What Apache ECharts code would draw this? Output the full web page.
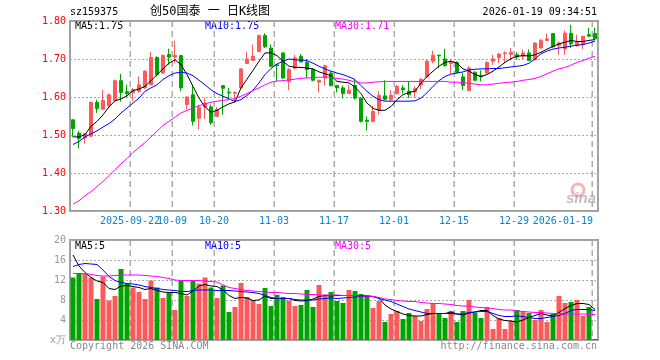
<!DOCTYPE html>
<html><head><meta charset="utf-8">
<script src="https://cdn.jsdelivr.net/npm/echarts@6/dist/echarts.min.js"></script>
<style>html,body{margin:0;padding:0;background:#fff}#c{width:660px;height:360px}</style>
</head><body><div id="c"></div>
<script>
const dates = [
'2025-09-08','2025-09-09','2025-09-10','2025-09-11','2025-09-12','2025-09-15','2025-09-16','2025-09-17','2025-09-18','2025-09-19',
'2025-09-22','2025-09-23','2025-09-24','2025-09-25','2025-09-26','2025-09-29','2025-09-30',
'2025-10-09','2025-10-10','2025-10-13','2025-10-14','2025-10-15','2025-10-16','2025-10-17','2025-10-20','2025-10-21','2025-10-22',
'2025-10-23','2025-10-24','2025-10-27','2025-10-28','2025-10-29','2025-10-30','2025-10-31',
'2025-11-03','2025-11-04','2025-11-05','2025-11-06','2025-11-07','2025-11-10','2025-11-11','2025-11-12','2025-11-13','2025-11-14',
'2025-11-17','2025-11-18','2025-11-19','2025-11-20','2025-11-21','2025-11-24','2025-11-25','2025-11-26','2025-11-27','2025-11-28',
'2025-12-01','2025-12-02','2025-12-03','2025-12-04','2025-12-05','2025-12-08','2025-12-09','2025-12-10','2025-12-11','2025-12-12',
'2025-12-15','2025-12-16','2025-12-17','2025-12-18','2025-12-19','2025-12-22','2025-12-23','2025-12-24','2025-12-25','2025-12-26',
'2025-12-29','2025-12-30','2025-12-31',
'2026-01-05','2026-01-06','2026-01-07','2026-01-08','2026-01-09','2026-01-12','2026-01-13','2026-01-14','2026-01-15','2026-01-16','2026-01-19'];

const opens = [1.540,1.505,1.492,1.497,1.586,1.568,1.577,1.590,1.643,1.614,1.612,1.615,1.624,1.632,1.704,1.663,1.712,1.705,1.709,1.580,1.606,1.544,
1.574,1.574,1.549,1.630,1.613,1.610,1.624,1.688,1.696,1.720,1.762,1.729,1.685,1.716,1.641,1.676,1.707,1.691,1.672,1.639,1.650,1.663,
1.630,1.624,1.609,1.630,1.597,1.539,1.536,1.565,1.603,1.594,1.609,1.624,1.615,1.613,1.632,1.653,1.694,1.710,1.700,1.688,1.691,1.653,
1.617,1.665,1.656,1.663,1.694,1.703,1.714,1.712,1.711,1.707,1.716,1.698,1.729,1.749,1.767,1.735,1.726,1.768,1.735,1.738,1.764,1.767];
const closes = [1.517,1.491,1.503,1.586,1.570,1.591,1.606,1.643,1.612,1.609,1.619,1.632,1.668,1.704,1.659,1.709,1.705,1.710,1.624,1.600,1.536,1.573,
1.584,1.532,1.567,1.623,1.611,1.612,1.674,1.700,1.707,1.762,1.732,1.681,1.683,1.650,1.672,1.703,1.692,1.672,1.644,1.644,1.682,1.630,
1.624,1.609,1.618,1.597,1.536,1.536,1.562,1.604,1.594,1.604,1.628,1.619,1.606,1.622,1.646,1.694,1.710,1.708,1.682,1.691,1.665,1.630,
1.676,1.644,1.653,1.691,1.700,1.713,1.716,1.718,1.705,1.716,1.696,1.742,1.749,1.753,1.732,1.742,1.768,1.740,1.746,1.760,1.760,1.753];
const lows = [1.495,1.465,1.477,1.494,1.558,1.566,1.574,1.589,1.588,1.600,1.589,1.611,1.621,1.630,1.654,1.661,1.685,1.689,1.615,1.568,1.525,1.514,
1.542,1.527,1.547,1.553,1.593,1.589,1.622,1.688,1.696,1.718,1.729,1.678,1.641,1.647,1.618,1.672,1.692,1.650,1.641,1.612,1.630,1.628,
1.612,1.596,1.608,1.593,1.533,1.512,1.533,1.554,1.591,1.589,1.606,1.609,1.597,1.597,1.621,1.650,1.689,1.676,1.681,1.661,1.663,1.618,
1.615,1.641,1.641,1.661,1.685,1.689,1.690,1.696,1.698,1.700,1.696,1.696,1.728,1.747,1.730,1.711,1.711,1.729,1.733,1.726,1.758,1.753];
const highs = [1.541,1.511,1.505,1.588,1.593,1.619,1.609,1.646,1.661,1.632,1.624,1.654,1.670,1.718,1.707,1.712,1.727,1.748,1.710,1.602,1.628,1.580,
1.597,1.580,1.574,1.630,1.624,1.615,1.676,1.718,1.738,1.764,1.768,1.738,1.685,1.718,1.676,1.711,1.713,1.700,1.676,1.646,1.685,1.668,
1.632,1.630,1.632,1.646,1.600,1.549,1.577,1.615,1.644,1.618,1.632,1.631,1.641,1.628,1.650,1.698,1.722,1.711,1.727,1.700,1.694,1.663,
1.681,1.668,1.670,1.694,1.711,1.716,1.720,1.729,1.718,1.725,1.725,1.744,1.753,1.767,1.767,1.746,1.775,1.790,1.764,1.761,1.782,1.782];

const ma5 = [1.495,1.495,1.501,1.523,1.536,1.553,1.574,1.590,1.595,1.603,1.617,1.621,1.628,1.643,1.659,1.674,1.689,1.698,1.685,1.659,1.628,1.597,
1.574,1.560,1.565,1.574,1.582,1.587,1.624,1.647,1.670,1.694,1.716,1.716,1.709,1.694,1.681,1.678,1.678,1.676,1.674,1.666,1.661,1.656,
1.641,1.639,1.637,1.626,1.609,1.584,1.570,1.565,1.565,1.575,1.593,1.606,1.612,1.615,1.637,1.654,1.668,1.681,1.691,1.694,1.689,1.674,
1.668,1.659,1.654,1.659,1.668,1.679,1.691,1.701,1.707,1.709,1.708,1.711,1.718,1.726,1.733,1.740,1.744,1.749,1.746,1.746,1.749,1.751];
const ma10 = [1.475,1.483,1.495,1.503,1.511,1.521,1.530,1.542,1.558,1.571,1.584,1.597,1.615,1.624,1.632,1.646,1.656,1.663,1.665,1.663,1.656,1.644,
1.632,1.619,1.609,1.602,1.595,1.588,1.593,1.604,1.618,1.637,1.659,1.675,1.687,1.694,1.700,1.698,1.697,1.696,1.689,1.681,1.674,1.668,
1.663,1.659,1.653,1.646,1.630,1.615,1.602,1.593,1.589,1.589,1.589,1.589,1.589,1.590,1.597,1.611,1.628,1.643,1.654,1.660,1.663,1.666,
1.671,1.673,1.674,1.674,1.675,1.675,1.677,1.679,1.681,1.683,1.689,1.700,1.714,1.721,1.726,1.729,1.731,1.734,1.736,1.738,1.742,1.747];
const ma30 = [1.318,1.327,1.340,1.351,1.364,1.378,1.393,1.409,1.424,1.438,1.454,1.467,1.480,1.495,1.510,1.525,1.536,1.547,1.558,1.565,1.571,1.577,
1.582,1.586,1.589,1.591,1.593,1.596,1.602,1.609,1.617,1.624,1.632,1.639,1.642,1.643,1.645,1.647,1.649,1.650,1.651,1.652,1.652,1.652,
1.649,1.647,1.644,1.640,1.637,1.637,1.639,1.640,1.641,1.641,1.641,1.641,1.641,1.641,1.641,1.641,1.641,1.641,1.641,1.639,1.639,1.638,
1.636,1.634,1.632,1.632,1.634,1.636,1.638,1.639,1.641,1.644,1.646,1.649,1.654,1.661,1.668,1.674,1.678,1.684,1.691,1.696,1.702,1.707];

const volumes = [12.5,13.3,13.2,12.5,8.2,12.7,7.9,8.8,14.2,11.3,10.5,9.6,8.2,11.9,10.5,8.4,9.5,6.0,11.8,8.8,
11.8,11.3,12.5,10.5,8.4,10.9,5.6,6.6,11.4,8.6,7.9,7.2,10.4,6.8,9.0,8.6,7.9,6.8,7.0,10.0,
6.6,11.0,8.8,9.6,7.8,7.4,10.0,9.8,9.2,8.8,6.4,7.8,3.6,5.2,5.8,4.2,5.4,4.8,3.8,6.2,
7.4,5.2,4.4,5.8,3.6,5.8,8.0,5.4,4.4,6.6,2.2,4.4,2.2,3.8,6.0,5.6,5.4,4.0,6.0,3.6,
5.2,8.8,7.4,7.6,8.0,4.8,6.6,0.2];
const vma5 = [17.0,14.8,13.5,12.5,11.8,11.5,10.3,10.1,10.8,10.9,10.7,10.5,10.1,10.3,9.9,9.6,9.5,9.5,9.3,9.0,9.8,10.8,
11.1,10.8,10.7,10.0,8.9,8.3,8.5,8.4,7.9,8.0,8.8,8.3,8.3,8.3,8.3,7.9,7.8,7.9,8.2,8.7,8.9,8.8,
8.9,8.9,8.9,8.9,8.9,8.8,8.7,8.4,7.0,6.2,5.7,5.2,4.9,4.8,4.8,5.1,5.3,5.3,5.3,5.6,5.2,5.0,
5.4,5.6,5.9,5.9,4.9,4.2,3.9,3.8,3.6,4.0,4.5,4.9,5.3,5.0,4.8,5.5,6.3,6.9,7.3,7.3,7.1,6.1];
const vma10 = [14.7,15.1,15.3,15.2,15.1,14.0,12.7,11.9,11.5,11.3,11.2,11.0,10.7,10.5,10.3,10.1,10.0,9.9,9.7,9.7,9.9,10.0,
10.0,10.0,9.9,9.9,9.9,9.8,9.7,9.6,9.5,9.3,8.9,8.5,8.3,8.3,8.3,8.1,8.0,8.0,8.0,8.2,8.3,8.4,
8.3,8.4,8.5,8.6,8.7,8.8,8.7,8.3,8.0,7.7,7.2,6.7,6.2,5.9,5.6,5.3,5.3,5.3,5.3,5.3,5.2,5.2,
5.5,5.6,5.7,5.7,5.3,4.9,4.7,4.7,4.8,4.7,4.5,4.3,4.3,4.5,4.7,4.9,5.3,5.9,6.1,6.1,6.1,5.9];
const vma30 = [13.3,13.3,13.3,13.1,12.9,12.8,12.8,12.9,13.0,13.0,13.0,13.0,12.9,12.8,12.7,12.5,12.3,12.0,11.9,11.9,11.9,11.9,
11.8,11.7,11.6,11.0,10.5,10.3,10.1,9.9,9.8,9.7,9.6,9.5,9.5,9.4,9.3,9.3,9.2,9.1,9.1,9.0,9.0,9.0,
9.0,8.9,8.9,8.9,8.8,8.8,8.7,8.5,8.2,8.1,7.9,7.8,7.7,7.7,7.5,7.4,7.3,7.3,7.2,7.1,6.9,6.8,
6.8,6.6,6.5,6.4,6.3,6.1,6.0,6.0,5.8,5.7,5.6,5.5,5.5,5.4,5.3,5.3,5.2,5.2,5.2,5.2,5.1,5.1];

const tickDates = ['2025-09-22','2025-10-09','2025-10-20','2025-11-03','2025-11-17','2025-12-01','2025-12-15','2025-12-29','2026-01-19'];
const tickLabels = ['2025-09-22','10-09','10-20','11-03','11-17','12-01','12-15','12-29','2026-01-19'];
const priceMin = 1.3, priceMax = 1.8, priceStep = 0.1;
const volMin = 0, volMax = 20, volStep = 4;
const headerCode = 'sz159375';
const headerTitle = '创50国泰 一 日K线图';
const headerTime = '2026-01-19 09:34:51';
const legendPrice = ['MA5:1.75','MA10:1.75','MA30:1.71'];
const legendVol = ['MA5:5','MA10:5','MA30:5'];

const RED = '#fa5a5a', GREEN = '#00a400', LBLUE = '#0a84d0', GRIDC = '#ababab';
const MONO = 'DejaVu Sans Mono, Liberation Mono, monospace';
const candles = dates.map((d,i)=>[opens[i],closes[i],lows[i],highs[i]]);
const volData = volumes.map((v,i)=>({value:v, itemStyle:{color: closes[i]>=opens[i]?RED:GREEN}}));
// index of each dated gridline; on the helper value axis, value i is the left edge of day i's slot
const tickIdx = tickDates.map(d=>dates.indexOf(d));

const chart = echarts.init(document.getElementById('c'), null, {renderer:'canvas'});
const lineS = (name,data,color,xi,yi)=>({name,type:'line',data,xAxisIndex:xi,yAxisIndex:yi,showSymbol:false,symbol:'none',silent:true,
  lineStyle:{color,width:1},itemStyle:{color},z:5});
const txt = (text,x,y,fill,align,font)=>({type:'text',x,y,silent:true,style:{text,fill,font:font||('10px '+MONO),
  align:align||'left',textAlign:align||'left',verticalAlign:'middle',textVerticalAlign:'middle'}});
// date labels for the price panel, placed through the helper value axis
const dateLabels = {
  type:'custom', xAxisIndex:2, yAxisIndex:0, silent:true, z:2, clip:false,
  data: tickIdx.map((v,k)=>[v,k]),
  renderItem:(params, api)=>{
    const v = api.value(0), k = api.value(1);
    const bot = api.coord([v, priceMin]);
    const last = k === tickIdx.length-1;
    return {type:'text', x: last ? bot[0]+1 : bot[0], y: bot[1]+10,
      style:{text: tickLabels[k], fill:LBLUE, font:'10px '+MONO, align: last?'right':'center', verticalAlign:'middle'}};
  }
};
// one small dashed line series per dated gridline (top to bottom of each panel)
const vLines = [];
tickIdx.forEach(v=>{
  [[2,0,priceMin,priceMax],[3,1,volMin,volMax]].forEach(([xi,yi,lo,hi])=>{
    vLines.push({type:'line', xAxisIndex:xi, yAxisIndex:yi, silent:true, symbol:'none', showSymbol:false, z:1,
      data:[[v,hi],[v,lo]], lineStyle:{color:GRIDC, width:1, type:[6,4]}, itemStyle:{color:GRIDC}});
  });
});
const isTick = (i) => tickIdx.indexOf(i) >= 0;
const xSplit = {show:true, interval:(i)=>isTick(i), lineStyle:{color:GRIDC, type:[6,4], width:1}};

chart.setOption({
  animation:false,
  backgroundColor:'#fff',
  grid:[
    {left:70,right:62,top:21,height:190,show:true,borderColor:'#a0a0a0',borderWidth:2,backgroundColor:'transparent'},
    {left:70,right:62,top:240,height:100,show:true,borderColor:'#a0a0a0',borderWidth:2,backgroundColor:'transparent'}
  ],
  xAxis:[
    {type:'category',gridIndex:0,data:dates,boundaryGap:true,axisLine:{show:false},axisTick:{show:false},splitLine:xSplit,axisLabel:{show:false}},
    {type:'category',gridIndex:1,data:dates,boundaryGap:true,axisLine:{show:false},axisTick:{show:false},splitLine:xSplit,axisLabel:{show:false}},
    {type:'value',gridIndex:0,min:0,max:dates.length,show:false},
    {type:'value',gridIndex:1,min:0,max:dates.length,show:false}
  ],
  yAxis:[
    {type:'value',gridIndex:0,min:priceMin,max:priceMax,interval:priceStep,position:'left',
     axisLine:{show:false},axisTick:{show:false},
     splitLine:{show:true,lineStyle:{color:'#a8a8a8',type:[2,2],width:1}},
     axisLabel:{color:'#ff0000',fontFamily:MONO,fontSize:10,margin:4,formatter:v=>v.toFixed(2)}},
    {type:'value',gridIndex:1,min:volMin,max:volMax,interval:volStep,position:'left',
     axisLine:{show:false},axisTick:{show:false},
     splitLine:{show:true,lineStyle:{color:'#a8a8a8',type:[2,2],width:1}},
     axisLabel:{color:'#999',fontFamily:MONO,fontSize:10,margin:4,formatter:v=>v===0?'x万':String(v)}}
  ],
  series:[
    dateLabels,
    ...vLines,
    {type:'candlestick',xAxisIndex:0,yAxisIndex:0,data:candles,barWidth:4,
     itemStyle:{color:RED,color0:GREEN,borderColor:RED,borderColor0:GREEN,borderWidth:1},z:3},
    lineS('MA5',ma5,'#000000',0,0),
    lineS('MA10',ma10,'#0000ff',0,0),
    lineS('MA30',ma30,'#ff00ff',0,0),
    {type:'bar',xAxisIndex:1,yAxisIndex:1,data:volData,barWidth:5,silent:true,z:3},
    lineS('VMA5',vma5,'#000000',1,1),
    lineS('VMA10',vma10,'#0000ff',1,1),
    lineS('VMA30',vma30,'#ff00ff',1,1)
  ],
  graphic:[
    txt(headerCode,70,12,'#000'),
    txt(headerTitle,150,12,'#000','left','12px '+MONO+', Noto Sans CJK SC'),
    txt(headerTime,597,12,'#000','right'),
    txt(legendPrice[0],75,26,'#000'),
    txt(legendPrice[1],205,26,'#0000ff'),
    txt(legendPrice[2],335,26,'#ff00ff'),
    txt(legendVol[0],75,246,'#000'),
    txt(legendVol[1],205,246,'#0000ff'),
    txt(legendVol[2],335,246,'#ff00ff'),
    txt('Copyright 2026 SINA.COM',70,346,'#888'),
    txt('http://finance.sina.com.cn',597,346,'#888','right'),
    {type:'circle',shape:{cx:578,cy:190,r:6},silent:true,style:{fill:'none',stroke:'rgba(236,120,120,0.55)',lineWidth:3}},
    txt('sina',566,199,'rgba(150,150,150,0.6)','left','italic bold 15px sans-serif')
  ]
});
</script></body></html>
